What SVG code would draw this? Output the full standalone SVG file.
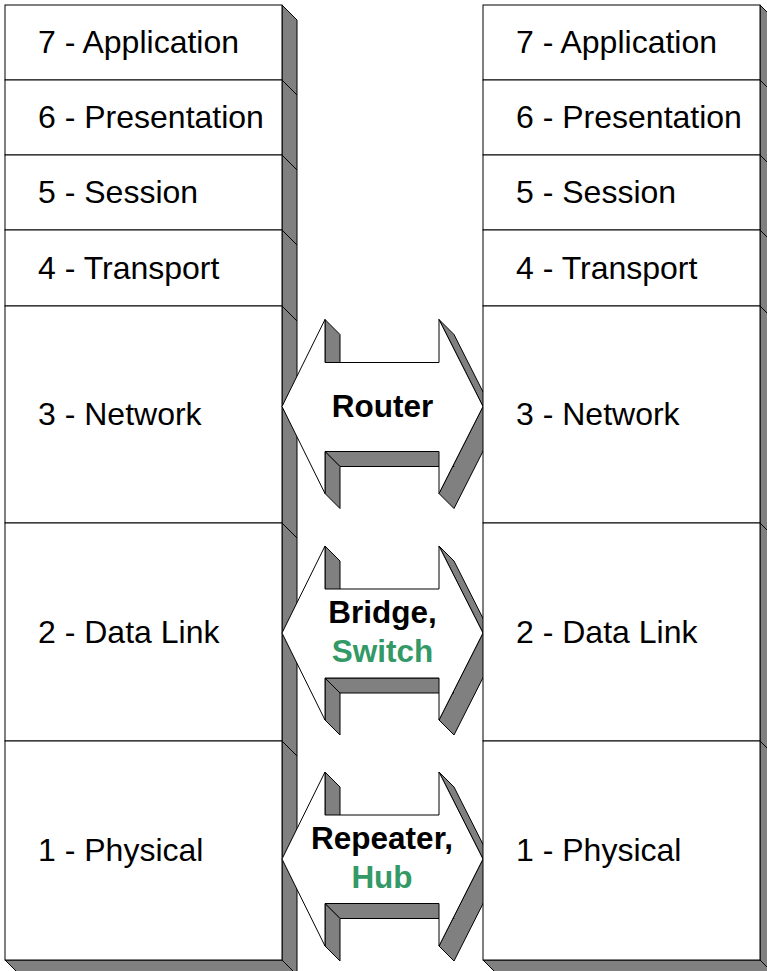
<svg xmlns="http://www.w3.org/2000/svg" width="767" height="971" viewBox="0 0 767 971">
<style>
  .face{fill:#ffffff;stroke:#000000;stroke-width:1}
  .side{fill:#808080;stroke:#000000;stroke-width:1;stroke-linejoin:miter}
  .lbl{font-family:"Liberation Sans",Arial,sans-serif;font-size:32px;fill:#000000}
  .dev{font-family:"Liberation Sans",Arial,sans-serif;font-size:31.5px;font-weight:bold;fill:#000000;text-anchor:middle}
  .grn{fill:#339966}
</style>
<rect x="0" y="0" width="767" height="971" fill="#ffffff"/>

<g id="left-stack">
  <g id="L7">
    <polygon class="side" points="282,5 297,20 297,95 282,80"/>
    <rect class="face" x="5" y="5" width="277" height="75"/>
    <text class="lbl" x="38" y="53">7 - Application</text>
  </g>
  <g id="L6">
    <polygon class="side" points="282,80 297,95 297,170 282,155"/>
    <rect class="face" x="5" y="80" width="277" height="75"/>
    <text class="lbl" x="38" y="128">6 - Presentation</text>
  </g>
  <g id="L5">
    <polygon class="side" points="282,155 297,170 297,245 282,230"/>
    <rect class="face" x="5" y="155" width="277" height="75"/>
    <text class="lbl" x="38" y="203">5 - Session</text>
  </g>
  <g id="L4">
    <polygon class="side" points="282,230 297,245 297,321 282,306"/>
    <rect class="face" x="5" y="230" width="277" height="76"/>
    <text class="lbl" x="38" y="279">4 - Transport</text>
  </g>
  <g id="L3">
    <polygon class="side" points="282,306 297,321 297,538 282,523"/>
    <rect class="face" x="5" y="306" width="277" height="217"/>
    <text class="lbl" x="38" y="425">3 - Network</text>
  </g>
  <g id="L2">
    <polygon class="side" points="282,523 297,538 297,756 282,741"/>
    <rect class="face" x="5" y="523" width="277" height="218"/>
    <text class="lbl" x="38" y="643">2 - Data Link</text>
  </g>
  <g id="L1">
    <polygon class="side" points="282,741 297,756 297,975 282,960"/>
    <polygon class="side" points="5,960 282,960 297,975 20,975"/>
    <rect class="face" x="5" y="741" width="277" height="219"/>
    <text class="lbl" x="38" y="861">1 - Physical</text>
  </g>
</g>

<g id="connectors">
  <g id="router">
    <polygon class="side" points="325,319.5 340,334.5 340,377.5 325,362.5"/>
    <polygon class="side" points="439,319.5 454,334.5 498,421.5 483,406.5"/>
    <polygon class="side" points="483,406.5 498,421.5 454,508.5 439,493.5"/>
    <polygon class="side" points="439,451.5 454,466.5 340,466.5 325,451.5"/>
    <polygon class="side" points="325,451.5 340,466.5 340,508.5 325,493.5"/>
    <polygon class="face" points="282,406.5 325,319.5 325,362.5 439,362.5 439,319.5 483,406.5 439,493.5 439,451.5 325,451.5 325,493.5"/>
    <text class="dev" x="382.5" y="417">Router</text>
  </g>
  <g id="bridge">
    <polygon class="side" points="325,546 340,561 340,604 325,589"/>
    <polygon class="side" points="439,546 454,561 498,648 483,633"/>
    <polygon class="side" points="483,633 498,648 454,735 439,720"/>
    <polygon class="side" points="439,678 454,693 340,693 325,678"/>
    <polygon class="side" points="325,678 340,693 340,735 325,720"/>
    <polygon class="face" points="282,633 325,546 325,589 439,589 439,546 483,633 439,720 439,678 325,678 325,720"/>
    <text class="dev" x="382.5" y="623">Bridge,</text>
    <text class="dev grn" x="382.5" y="661.5">Switch</text>
  </g>
  <g id="repeater">
    <polygon class="side" points="325,772 340,787 340,830 325,815"/>
    <polygon class="side" points="439,772 454,787 498,874 483,859"/>
    <polygon class="side" points="483,859 498,874 454,961 439,946"/>
    <polygon class="side" points="439,903.5 454,918.5 340,918.5 325,903.5"/>
    <polygon class="side" points="325,903.5 340,918.5 340,961 325,946"/>
    <polygon class="face" points="282,859 325,772 325,815 439,815 439,772 483,859 439,946 439,903.5 325,903.5 325,946"/>
    <text class="dev" x="382" y="849">Repeater,</text>
    <text class="dev grn" x="382" y="888">Hub</text>
  </g>
</g>

<g id="right-stack">
  <g id="R7">
    <polygon class="side" points="760,5 775,20 775,95 760,80"/>
    <rect class="face" x="483" y="5" width="277" height="75"/>
    <text class="lbl" x="516" y="53">7 - Application</text>
  </g>
  <g id="R6">
    <polygon class="side" points="760,80 775,95 775,170 760,155"/>
    <rect class="face" x="483" y="80" width="277" height="75"/>
    <text class="lbl" x="516" y="128">6 - Presentation</text>
  </g>
  <g id="R5">
    <polygon class="side" points="760,155 775,170 775,245 760,230"/>
    <rect class="face" x="483" y="155" width="277" height="75"/>
    <text class="lbl" x="516" y="203">5 - Session</text>
  </g>
  <g id="R4">
    <polygon class="side" points="760,230 775,245 775,321 760,306"/>
    <rect class="face" x="483" y="230" width="277" height="76"/>
    <text class="lbl" x="516" y="279">4 - Transport</text>
  </g>
  <g id="R3">
    <polygon class="side" points="760,306 775,321 775,538 760,523"/>
    <rect class="face" x="483" y="306" width="277" height="217"/>
    <text class="lbl" x="516" y="425">3 - Network</text>
  </g>
  <g id="R2">
    <polygon class="side" points="760,523 775,538 775,756 760,741"/>
    <rect class="face" x="483" y="523" width="277" height="218"/>
    <text class="lbl" x="516" y="643">2 - Data Link</text>
  </g>
  <g id="R1">
    <polygon class="side" points="760,741 775,756 775,975 760,960"/>
    <polygon class="side" points="483,960 760,960 775,975 498,975"/>
    <rect class="face" x="483" y="741" width="277" height="219"/>
    <text class="lbl" x="516" y="861">1 - Physical</text>
  </g>
</g>
</svg>
